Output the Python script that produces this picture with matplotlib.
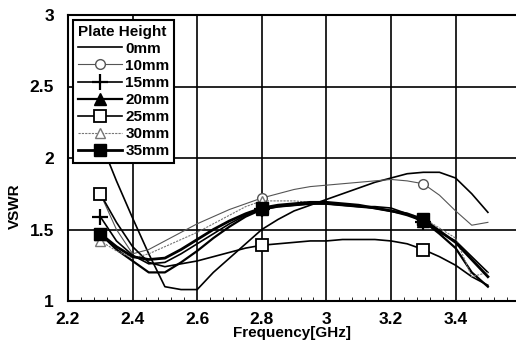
import matplotlib.pyplot as plt
from matplotlib.ticker import MultipleLocator

plt.rcParams['font.family'] = ['Liberation Sans', 'DejaVu Sans']
plt.rcParams['font.weight'] = 'bold'

# frequency points [GHz]
freq = [2.3, 2.35, 2.4, 2.45, 2.5, 2.55, 2.6, 2.65, 2.7, 2.75, 2.8, 2.85, 2.9,
        2.95, 3.0, 3.05, 3.1, 3.15, 3.2, 3.25, 3.3, 3.35, 3.4, 3.45, 3.5]

vswr_0 = [2.12, 1.84, 1.58, 1.33, 1.1, 1.08, 1.08, 1.2, 1.3, 1.4, 1.5, 1.57, 1.63,
          1.67, 1.71, 1.75, 1.79, 1.83, 1.86, 1.89, 1.9, 1.9, 1.86, 1.75, 1.62]
vswr_10 = [1.75, 1.5, 1.33, 1.36, 1.42, 1.48, 1.54, 1.59, 1.64, 1.68, 1.72, 1.75, 1.78,
           1.8, 1.81, 1.82, 1.83, 1.84, 1.85, 1.84, 1.82, 1.74, 1.63, 1.53, 1.55]
vswr_15 = [1.59, 1.42, 1.32, 1.26, 1.27, 1.33, 1.4, 1.47, 1.54, 1.6, 1.64, 1.66, 1.67,
           1.68, 1.68, 1.67, 1.66, 1.66, 1.65, 1.61, 1.55, 1.48, 1.42, 1.31, 1.2]
vswr_20 = [1.47, 1.36, 1.28, 1.2, 1.2, 1.27, 1.35, 1.44, 1.52, 1.59, 1.64, 1.66, 1.67,
           1.68, 1.68, 1.67, 1.66, 1.65, 1.63, 1.6, 1.56, 1.47, 1.37, 1.2, 1.1]
vswr_25 = [1.75, 1.55, 1.38, 1.27, 1.24, 1.26, 1.28, 1.31, 1.34, 1.37, 1.39, 1.4, 1.41,
           1.42, 1.42, 1.43, 1.43, 1.43, 1.42, 1.4, 1.36, 1.31, 1.25, 1.17, 1.11]
vswr_30 = [1.42, 1.35, 1.3, 1.33, 1.38, 1.43, 1.48, 1.54, 1.6, 1.66, 1.7, 1.7, 1.7,
           1.69, 1.69, 1.68, 1.67, 1.65, 1.63, 1.61, 1.58, 1.51, 1.44, 1.17, 1.2]
vswr_35 = [1.47, 1.38, 1.31, 1.29, 1.3, 1.36, 1.43, 1.5, 1.56, 1.61, 1.65, 1.67, 1.68,
           1.69, 1.69, 1.68, 1.67, 1.65, 1.63, 1.61, 1.57, 1.49, 1.41, 1.29, 1.17]

labels = ['0mm', '10mm', '15mm', '20mm', '25mm', '30mm', '35mm']
series = [vswr_0, vswr_10, vswr_15, vswr_20, vswr_25, vswr_30, vswr_35]
styles = [
    dict(color='black', lw=1.2, marker=None),
    dict(color='#555555', lw=0.8, marker='o', mfc='white', mec='#555555', ms=7),
    dict(color='black', lw=1.2, marker='+', ms=11, mew=1.6),
    dict(color='black', lw=1.6, marker='^', mfc='black', ms=8),
    dict(color='black', lw=1.2, marker='s', mfc='white', mec='black', ms=8, mew=1.3),
    dict(color='#777777', lw=0.8, ls=(0, (2, 1)), marker='^', mfc='white', mec='#777777', ms=7),
    dict(color='black', lw=2.0, marker='s', mfc='black', ms=8),
]

fig = plt.figure(figsize=(5.16, 3.5), dpi=100)
ax = fig.add_axes([68 / 516, 1 - 301 / 350, 448 / 516, 286 / 350])

for y, lab, st in zip(series, labels, styles):
    ax.plot(freq, y, label=lab, markevery=[0, 10, 20], **st)

ax.set_xlim(2.2, 2.2 + 448 / 323)
ax.set_ylim(1, 3)
ax.xaxis.set_minor_locator(MultipleLocator(0.04))
ax.set_xticks([2.2, 2.4, 2.6, 2.8, 3.0, 3.2, 3.4])
ax.set_xticklabels(['2.2', '2.4', '2.6', '2.8', '3', '3.2', '3.4'])
ax.set_yticks([1, 1.5, 2, 2.5, 3])
ax.set_yticklabels(['1', '1.5', '2', '2.5', '3'])
ax.grid(True, which='major', color='black', lw=1.2)
ax.tick_params(which='major', length=0, labelsize=12.5)
ax.tick_params(which='major', axis='y', pad=10)
ax.tick_params(which='major', axis='x', pad=8)
ax.tick_params(which='minor', axis='x', direction='in', length=3, top=False)
for side in ['left', 'bottom', 'top']:
    ax.spines[side].set_linewidth(1.5)
ax.spines['right'].set_visible(False)

ax.set_xlabel('Frequency[GHz]', fontsize=11, fontweight='bold')
ax.xaxis.set_label_coords(0.5, -0.088)
ax.set_ylabel('VSWR', fontsize=11, fontweight='bold')
ax.yaxis.set_label_coords(-0.103, 0.33)

leg = ax.legend(title='Plate Height', loc='upper left', bbox_to_anchor=(0.012, 0.982),
                fontsize=11, title_fontsize=11, handlelength=2.9, handletextpad=0.2,
                labelspacing=0.2, borderpad=0.3, borderaxespad=0, fancybox=False,
                framealpha=1, edgecolor='black')
leg.get_frame().set_linewidth(1.5)
leg.get_title().set_fontweight('bold')
leg._legend_box.align = 'left'

fig.savefig('out.png', dpi=100)
